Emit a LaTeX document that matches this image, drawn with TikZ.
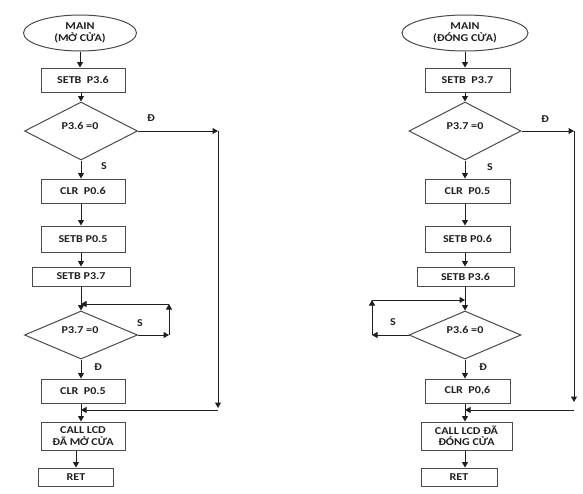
\documentclass[tikz,border=0pt]{standalone}
\usepackage{fontspec}
\setmainfont{Carlito}[FakeStretch=1.15]
\usetikzlibrary{shapes.geometric,arrows.meta}
\definecolor{boxc}{HTML}{4A4A4A}
\definecolor{arrc}{HTML}{1E1E1E}
\definecolor{txt}{HTML}{202020}
\begin{document}
\begin{tikzpicture}[x=1pt,y=-1pt,
  every node/.style={font=\fontsize{10.5}{11.5}\selectfont\bfseries, text=txt},
  box/.style={draw=boxc, line width=1pt, rectangle, inner sep=0pt, align=center},
  dia/.style={draw=boxc, line width=1pt, diamond, inner sep=0pt},
  ell/.style={draw=boxc, line width=1pt, ellipse, inner sep=0pt, align=center},
  arr/.style={draw=arrc, line width=1pt, -{Triangle[length=5.5pt,width=6pt]}}
]
\useasboundingbox (0,0) rectangle (583,493);

% ---------------- left flowchart ----------------
\node[ell, minimum width=113pt, minimum height=36pt] (e1) at (80,33) {MAIN\\(MỞ CỬA)};
\node[box, minimum width=84pt, minimum height=24pt] (b1) at (83,80) {SETB\ \ P3.6};
\node[dia, minimum width=113pt, minimum height=58pt] (d1) at (81,131) {};
\node (t1) at (80,126) {P3.6 =0};
\node[box, minimum width=84pt, minimum height=24pt] (b2) at (83,191) {CLR\ \ P0.6};
\node[box, minimum width=84pt, minimum height=26pt] (b3) at (83,239) {SETB P0.5};
\node[box, minimum width=98pt, minimum height=19pt] (b4) at (81,276.5) {SETB P3.7};
\node[dia, minimum width=113pt, minimum height=48pt] (d2) at (81,335) {};
\node (t2) at (80,330) {P3.7 =0};
\node[box, minimum width=84pt, minimum height=24pt] (b5) at (83,391) {CLR\ \ P0.5};
\node[box, minimum width=84pt, minimum height=28pt] (b6) at (83,436) {CALL LCD\\ĐÃ MỞ CỬA};
\node[box, minimum width=75pt, minimum height=18pt] (b7) at (76,477) {RET};

\node (lb1) at (151,118) {Đ};
\node (lb2) at (104,166) {S};
\node (lb3) at (140,323) {S};
\node (lb4) at (98,367) {Đ};

\draw[arr] (e1.south) -- (e1.south |- b1.north);
\draw[arr] (d1.north |- b1.south) -- (d1.north);
\draw[arr] (d1.south) -- (d1.south |- b2.north);
\draw[arr] (d1.south |- b2.south) -- (d1.south |- b3.north);
\draw[arr] (d1.south |- b3.south) -- (d1.south |- b4.north);
\draw[arr] (d2.north |- b4.south) -- (d2.north);
\draw[arr] (d2.south) -- (d2.south |- b5.north);
\draw[arr] (d2.south |- b5.south) -- (d2.south |- b6.north);
\draw[arr] (b7.north |- b6.south) -- (b7.north);

\coordinate (c1) at (218,131);
\coordinate (c2) at (218,408);
\coordinate (c3) at (218,410);
\draw[arr] (d1.east) -- (c1);
\draw[arr] (c1) -- (c2);
\draw[arr] (c3) -- (c3 -| d2.south);

\coordinate (l1) at (169,335);
\coordinate (l2) at (169,304);
\draw[arr] (d2.east) -- (l1);
\draw[arr] (l1) -- (l2);
\draw[arr] (l2) -- (l2 -| d2.north);

% ---------------- right flowchart ----------------
\node[ell, minimum width=126pt, minimum height=36pt] (e2) at (465,33) {MAIN\\(ĐÓNG CỬA)};
\node[box, minimum width=85pt, minimum height=24pt] (b8) at (467.5,80) {SETB\ \ P3.7};
\node[dia, minimum width=112pt, minimum height=58pt] (d3) at (465,131) {};
\node (t3) at (465,126) {P3.7 =0};
\node[box, minimum width=85pt, minimum height=24pt] (b9) at (467.5,191) {CLR\ \ P0.5};
\node[box, minimum width=85pt, minimum height=26pt] (b10) at (467.5,239) {SETB P0.6};
\node[box, minimum width=97pt, minimum height=19pt] (b11) at (465.5,276.5) {SETB P3.6};
\node[dia, minimum width=112pt, minimum height=48pt] (d4) at (465,335) {};
\node (t4) at (465,330) {P3.6 =0};
\node[box, minimum width=85pt, minimum height=24pt] (b12) at (467.5,391) {CLR\ \ P0,6};
\node[box, minimum width=91pt, minimum height=28pt] (b13) at (466.5,436) {CALL LCD ĐÃ\\ĐÓNG CỬA};
\node[box, minimum width=76pt, minimum height=18pt] (b14) at (459,477) {RET};

\node (lb5) at (545,119) {Đ};
\node (lb6) at (490,167) {S};
\node (lb7) at (393,322) {S};
\node (lb8) at (483,367) {Đ};

\draw[arr] (e2.south) -- (e2.south |- b8.north);
\draw[arr] (d3.north |- b8.south) -- (d3.north);
\draw[arr] (d3.south) -- (d3.south |- b9.north);
\draw[arr] (d3.south |- b9.south) -- (d3.south |- b10.north);
\draw[arr] (d3.south |- b10.south) -- (d3.south |- b11.north);
\draw[arr] (d4.north |- b11.south) -- (d4.north);
\draw[arr] (d4.south) -- (d4.south |- b12.north);
\draw[arr] (d4.south |- b12.south) -- (d4.south |- b13.north);
\draw[arr] (d4.south |- b13.south) -- (d4.south |- b14.north);

\coordinate (c4) at (574,131);
\coordinate (c5) at (574,402);
\coordinate (c6) at (574,410);
\draw[arr] (d3.east) -- (c4);
\draw[arr] (c4) -- (c5);
\draw[arr] (c6) -- (c6 -| d4.south);

\coordinate (l3) at (372,335);
\coordinate (l4) at (372,300);
\draw[arr] (d4.west) -- (l3);
\draw[arr] (l3) -- (l4);
\draw[arr] (l4) -- (l4 -| d4.north);
\end{tikzpicture}
\end{document}
